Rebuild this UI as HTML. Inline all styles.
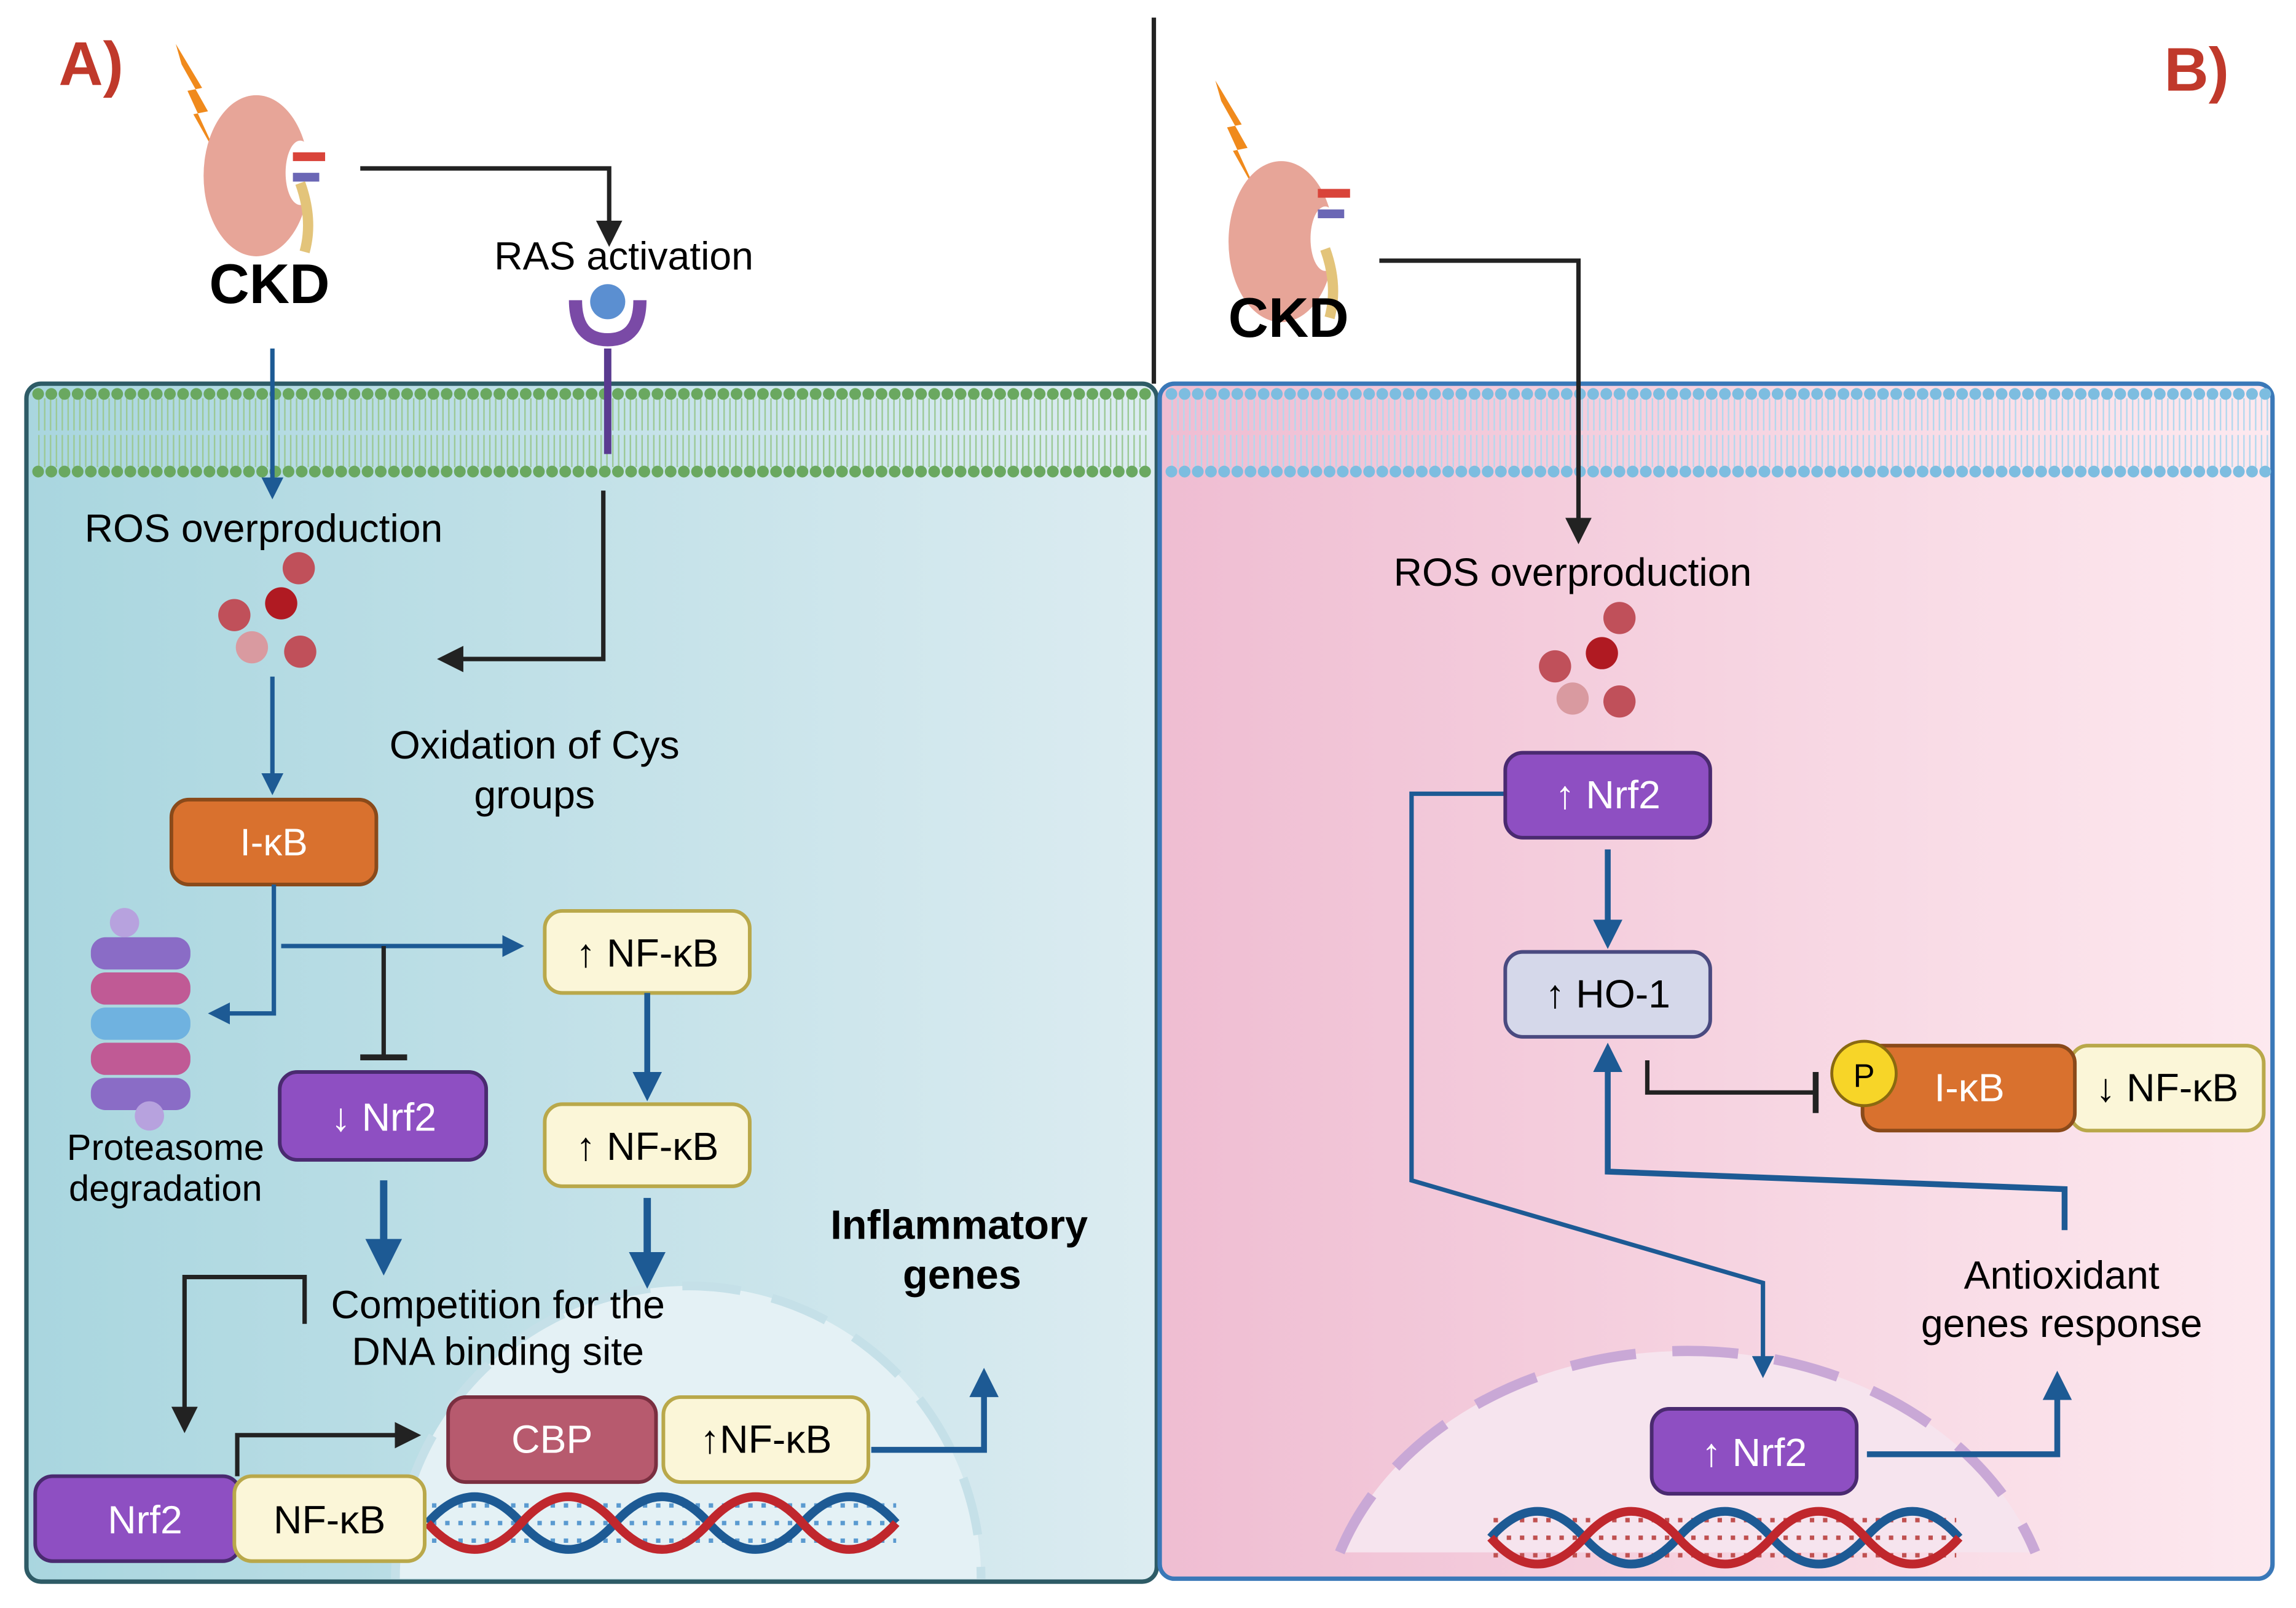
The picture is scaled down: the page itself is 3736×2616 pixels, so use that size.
<!DOCTYPE html>
<html><head><meta charset="utf-8"><style>
html,body{margin:0;padding:0;background:#fff;}
svg{display:block;}
text{font-family:"Liberation Sans",sans-serif;}
</style></head><body>
<svg width="3736" height="2616" viewBox="0 0 1568 1098" xmlns="http://www.w3.org/2000/svg">
<defs>
<linearGradient id="ga" x1="0" x2="1"><stop offset="0" stop-color="#a9d6df"/><stop offset="1" stop-color="#dcecf1"/></linearGradient>
<linearGradient id="gb" x1="0" x2="1"><stop offset="0" stop-color="#efbdd2"/><stop offset="1" stop-color="#fde9ef"/></linearGradient>
<marker id="ab" viewBox="0 0 10 10" refX="8" refY="5" markerWidth="5" markerHeight="5" orient="auto"><path d="M0,0L10,5L0,10z" fill="#1d5a94"/></marker>
<marker id="ak" viewBox="0 0 10 10" refX="8" refY="5" markerWidth="6" markerHeight="6" orient="auto"><path d="M0,0L10,5L0,10z" fill="#222"/></marker>
</defs>
<rect width="1568" height="1098" fill="#fff"/>
<!-- panels -->
<rect x="18" y="262" width="772" height="818" rx="10" fill="url(#ga)" stroke="#2e5b66" stroke-width="3"/>
<rect x="792" y="262" width="760" height="816" rx="10" fill="url(#gb)" stroke="#3a78b8" stroke-width="3"/>
<!-- membranes -->
<g stroke-linecap="butt">
<line x1="26" y1="283" x2="785" y2="283" stroke="#9cc996" stroke-width="22" stroke-dasharray="1,3"/>
<line x1="26" y1="308" x2="785" y2="308" stroke="#9cc996" stroke-width="22" stroke-dasharray="1,3"/>
<line x1="800" y1="283" x2="1550" y2="283" stroke="#b3d8ee" stroke-width="22" stroke-dasharray="1,3"/>
<line x1="800" y1="308" x2="1550" y2="308" stroke="#b3d8ee" stroke-width="22" stroke-dasharray="1,3"/>
</g>
<g stroke-linecap="round">
<line x1="26" y1="269" x2="785" y2="269" stroke="#6aa860" stroke-width="8" stroke-dasharray="0,9"/>
<line x1="26" y1="322" x2="785" y2="322" stroke="#6aa860" stroke-width="8" stroke-dasharray="0,9"/>
<line x1="800" y1="269" x2="1550" y2="269" stroke="#7dbde0" stroke-width="8" stroke-dasharray="0,9"/>
<line x1="800" y1="322" x2="1550" y2="322" stroke="#7dbde0" stroke-width="8" stroke-dasharray="0,9"/>
</g>
<line x1="788" y1="12" x2="788" y2="262" stroke="#222" stroke-width="3"/>
<!-- nuclei -->
<path d="M270,1078 A200,200 0 0 1 670,1078" fill="#e4f1f5" stroke="#c5e0e8" stroke-width="6" stroke-dasharray="40,22"/>
<path d="M915,1060 A250,200 0 0 1 1390,1060" fill="#f6e4ee" stroke="#c9a8d6" stroke-width="7" stroke-dasharray="45,25"/>
<text x="40" y="58" font-size="42" font-weight="bold" fill="#c0392b">A)</text>
<text x="1478" y="62" font-size="42" font-weight="bold" fill="#c0392b">B)</text>
<!-- kidneys -->
<g>
<path d="M120,30 L138,60 L128,62 L150,110 L132,78 L142,76 L124,44z" fill="#f08a1c"/>
<ellipse cx="175" cy="120" rx="36" ry="55" fill="#e7a598"/>
<ellipse cx="205" cy="118" rx="10" ry="22" fill="#fff"/>
<rect x="200" y="104" width="22" height="6" fill="#d9443a"/><rect x="200" y="118" width="18" height="6" fill="#6b67b5"/>
<path d="M205,125 Q214,150 208,172" stroke="#e3c47a" stroke-width="7" fill="none"/>
</g>
<g transform="translate(710,25)">
<path d="M120,30 L138,60 L128,62 L150,110 L132,78 L142,76 L124,44z" fill="#f08a1c"/>
<ellipse cx="165" cy="140" rx="36" ry="55" fill="#e7a598"/>
<ellipse cx="195" cy="138" rx="10" ry="22" fill="#fff"/>
<rect x="190" y="104" width="22" height="6" fill="#d9443a"/><rect x="190" y="118" width="18" height="6" fill="#6b67b5"/>
<path d="M195,145 Q204,170 198,192" stroke="#e3c47a" stroke-width="7" fill="none"/>
</g>
<text x="184" y="207" font-size="38" font-weight="bold" text-anchor="middle">CKD</text>
<text x="880" y="230" font-size="38" font-weight="bold" text-anchor="middle">CKD</text>
<!-- panel A connectors -->
<path d="M246,115 L416,115 L416,165" stroke="#222" stroke-width="3" fill="none" marker-end="url(#ak)"/>
<text x="426" y="184" font-size="27" text-anchor="middle">RAS activation</text>
<path d="M393,205 Q393,232 415,232 Q437,232 437,205" stroke="#7a4aa6" stroke-width="9" fill="none"/>
<circle cx="415" cy="206" r="12" fill="#5b8fd1"/>
<line x1="415" y1="238" x2="415" y2="310" stroke="#5a3a90" stroke-width="5"/>
<path d="M412,335 L412,450 L302,450" stroke="#222" stroke-width="3" fill="none" marker-end="url(#ak)"/>
<path d="M186,238 L186,338" stroke="#1d5a94" stroke-width="3" fill="none" marker-end="url(#ab)"/>
<text x="180" y="370" font-size="27" text-anchor="middle">ROS overproduction</text>
<g><circle cx="204" cy="388" r="11" fill="#c0505a"/><circle cx="160" cy="420" r="11" fill="#c0505a"/><circle cx="192" cy="412" r="11" fill="#b01a22"/><circle cx="172" cy="442" r="11" fill="#d99aa0"/><circle cx="205" cy="445" r="11" fill="#c0505a"/></g>
<path d="M186,462 L186,540" stroke="#1d5a94" stroke-width="3" fill="none" marker-end="url(#ab)"/>
<text x="365" y="518" font-size="27" text-anchor="middle">Oxidation of Cys</text>
<text x="365" y="552" font-size="27" text-anchor="middle">groups</text>
<rect x="117" y="546" width="140" height="58" rx="12" fill="#d9712e" stroke="#8a4a1a" stroke-width="2.5"/>
<text x="187" y="584" font-size="26" fill="#fff" text-anchor="middle">I-κB</text>
<path d="M187,604 L187,692 L145,692" stroke="#1d5a94" stroke-width="3" fill="none" marker-end="url(#ab)"/>
<path d="M192,646 L355,646" stroke="#1d5a94" stroke-width="3" fill="none" marker-end="url(#ab)"/>
<line x1="262" y1="646" x2="262" y2="722" stroke="#222" stroke-width="3"/><line x1="246" y1="722" x2="278" y2="722" stroke="#222" stroke-width="4"/>
<!-- proteasome -->
<g>
<rect x="62" y="640" width="68" height="22" rx="10" fill="#8a6cc6"/>
<rect x="62" y="664" width="68" height="22" rx="10" fill="#c05a95"/>
<rect x="62" y="688" width="68" height="22" rx="10" fill="#6fb2e0"/>
<rect x="62" y="712" width="68" height="22" rx="10" fill="#c05a95"/>
<rect x="62" y="736" width="68" height="22" rx="10" fill="#8a6cc6"/>
<circle cx="85" cy="630" r="10" fill="#b7a2de"/><circle cx="102" cy="762" r="10" fill="#b7a2de"/>
</g>
<text x="113" y="792" font-size="25" text-anchor="middle">Proteasome</text>
<text x="113" y="820" font-size="25" text-anchor="middle">degradation</text>
<rect x="191" y="732" width="141" height="60" rx="12" fill="#8e4fc2" stroke="#4a2a70" stroke-width="2.5"/>
<text x="262" y="772" font-size="27" fill="#fff" text-anchor="middle">↓ Nrf2</text>
<rect x="372" y="622" width="140" height="56" rx="12" fill="#fbf6d8" stroke="#b9a84a" stroke-width="2.5"/>
<text x="442" y="660" font-size="27" text-anchor="middle">↑ NF-κB</text>
<path d="M442,678 L442,748" stroke="#1d5a94" stroke-width="4" fill="none" marker-end="url(#ab)"/>
<rect x="372" y="754" width="140" height="56" rx="12" fill="#fbf6d8" stroke="#b9a84a" stroke-width="2.5"/>
<text x="442" y="792" font-size="27" text-anchor="middle">↑ NF-κB</text>
<path d="M442,818 L442,875" stroke="#1d5a94" stroke-width="5" fill="none" marker-end="url(#ab)"/>
<path d="M262,806 L262,866" stroke="#1d5a94" stroke-width="5" fill="none" marker-end="url(#ab)"/>
<text x="340" y="900" font-size="27" text-anchor="middle">Competition for the</text>
<text x="340" y="932" font-size="27" text-anchor="middle">DNA binding site</text>
<path d="M208,904 L208,872 L126,872 L126,975" stroke="#222" stroke-width="3" fill="none" marker-end="url(#ak)"/>
<path d="M162,1008 L162,980 L284,980" stroke="#222" stroke-width="3" fill="none" marker-end="url(#ak)"/>
<text x="655" y="846" font-size="28" font-weight="bold" text-anchor="middle">Inflammatory</text>
<text x="657" y="880" font-size="28" font-weight="bold" text-anchor="middle">genes</text>
<path d="M595,990 L672,990 L672,938" stroke="#1d5a94" stroke-width="4" fill="none" marker-end="url(#ab)"/>
<rect x="306" y="954" width="142" height="58" rx="12" fill="#b75a6e" stroke="#7a2f40" stroke-width="2.5"/>
<text x="377" y="992" font-size="27" fill="#fff" text-anchor="middle">CBP</text>
<rect x="453" y="954" width="140" height="58" rx="12" fill="#fbf6d8" stroke="#b9a84a" stroke-width="2.5"/>
<text x="523" y="992" font-size="27" text-anchor="middle">↑NF-κB</text>
<!-- DNA A -->
<g stroke-width="3" stroke-dasharray="3,6" stroke-linecap="butt">
<path d="M295,1028 L612,1028 M295,1040 L612,1040 M295,1052 L612,1052" stroke="#5a9ad0"/>
</g>
<g stroke-width="6" fill="none">
<path d="M292,1040 Q324,1004 356,1040 T420,1040 T484,1040 T548,1040 T612,1040" stroke="#1d5a94"/>
<path d="M292,1040 Q324,1076 356,1040 T420,1040 T484,1040 T548,1040 T612,1040" stroke="#c0272d"/>
</g>
<rect x="24" y="1008" width="140" height="58" rx="12" fill="#8e4fc2" stroke="#4a2a70" stroke-width="2.5"/>
<text x="99" y="1047" font-size="27" fill="#fff" text-anchor="middle">Nrf2</text>
<rect x="160" y="1008" width="130" height="58" rx="12" fill="#fbf6d8" stroke="#b9a84a" stroke-width="2.5"/>
<text x="225" y="1047" font-size="27" text-anchor="middle">NF-κB</text>
<!-- panel B -->
<path d="M942,178 L1078,178 L1078,368" stroke="#222" stroke-width="3" fill="none" marker-end="url(#ak)"/>
<text x="1074" y="400" font-size="27" text-anchor="middle">ROS overproduction</text>
<g><circle cx="1106" cy="422" r="11" fill="#c0505a"/><circle cx="1062" cy="455" r="11" fill="#c0505a"/><circle cx="1094" cy="446" r="11" fill="#b01a22"/><circle cx="1074" cy="477" r="11" fill="#d99aa0"/><circle cx="1106" cy="479" r="11" fill="#c0505a"/></g>
<path d="M1028,542 L964,542 L964,806 L1204,876 L1204,938" stroke="#1d5a94" stroke-width="3" fill="none" marker-end="url(#ab)"/>
<rect x="1028" y="514" width="140" height="58" rx="12" fill="#8e4fc2" stroke="#4a2a70" stroke-width="2.5"/>
<text x="1098" y="552" font-size="27" fill="#fff" text-anchor="middle">↑ Nrf2</text>
<path d="M1098,580 L1098,644" stroke="#1d5a94" stroke-width="4" fill="none" marker-end="url(#ab)"/>
<rect x="1028" y="650" width="140" height="58" rx="12" fill="#d5d8ea" stroke="#4a4a80" stroke-width="2.5"/>
<text x="1098" y="688" font-size="27" text-anchor="middle">↑ HO-1</text>
<path d="M1410,840 L1410,812 L1098,800 L1098,716" stroke="#1d5a94" stroke-width="4" fill="none" marker-end="url(#ab)"/>
<path d="M1125,724 L1125,746 L1240,746" stroke="#222" stroke-width="3" fill="none"/><line x1="1240" y1="732" x2="1240" y2="760" stroke="#222" stroke-width="4"/>
<rect x="1414" y="714" width="132" height="58" rx="12" fill="#fbf6d8" stroke="#b9a84a" stroke-width="2.5"/>
<text x="1480" y="752" font-size="27" text-anchor="middle">↓ NF-κB</text>
<rect x="1272" y="714" width="145" height="58" rx="12" fill="#d9712e" stroke="#8a4a1a" stroke-width="2.5"/>
<text x="1345" y="752" font-size="27" fill="#fff" text-anchor="middle">I-κB</text>
<circle cx="1273" cy="733" r="22" fill="#f7d528" stroke="#8a6a10" stroke-width="2"/>
<text x="1273" y="742" font-size="22" text-anchor="middle">P</text>
<text x="1408" y="880" font-size="27" text-anchor="middle">Antioxidant</text>
<text x="1408" y="913" font-size="27" text-anchor="middle">genes response</text>
<path d="M1275,993 L1405,993 L1405,940" stroke="#1d5a94" stroke-width="4" fill="none" marker-end="url(#ab)"/>
<g stroke-width="3" stroke-dasharray="3,6" stroke-linecap="butt">
<path d="M1020,1038 L1336,1038 M1020,1050 L1336,1050 M1020,1062 L1336,1062" stroke="#c05050"/>
</g>
<g stroke-width="6" fill="none">
<path d="M1018,1050 Q1050,1014 1082,1050 T1146,1050 T1210,1050 T1274,1050 T1338,1050" stroke="#1d5a94"/>
<path d="M1018,1050 Q1050,1086 1082,1050 T1146,1050 T1210,1050 T1274,1050 T1338,1050" stroke="#c0272d"/>
</g>
<rect x="1128" y="962" width="140" height="58" rx="12" fill="#8e4fc2" stroke="#4a2a70" stroke-width="2.5"/>
<text x="1198" y="1001" font-size="27" fill="#fff" text-anchor="middle">↑ Nrf2</text>
</svg>
</body></html>
